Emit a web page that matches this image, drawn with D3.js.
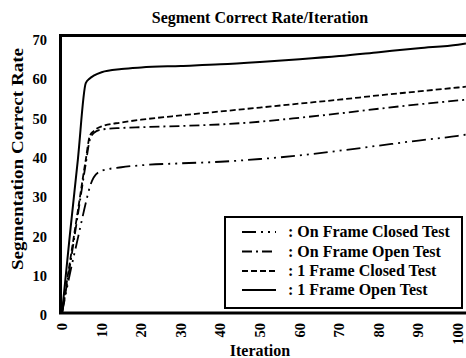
<!DOCTYPE html>
<html>
<head>
<meta charset="utf-8">
<script src="https://cdn.jsdelivr.net/npm/d3@7"></script>
<style>
  html, body { margin: 0; padding: 0; background: #fff; }
  svg { display: block; }
  text { font-family: "Liberation Serif", "Times New Roman", serif; font-weight: bold; fill: #000; }
</style>
</head>
<body>
<svg id="chart" width="466" height="358"></svg>
<script>
const iterations = [0, 2, 4, 6, 7, 8, 10, 15, 20, 30, 40, 50, 60, 70, 80, 90, 100, 102];
const onFrameClosed = [0, 10, 19, 28, 32, 34.5, 36.2, 37.1, 37.6, 38.1, 38.5, 39.2, 40.1, 41.3, 42.6, 43.9, 45.1, 45.4];
const onFrameOpen   = [0, 12, 25, 38, 44, 45.8, 46.7, 47.1, 47.3, 47.6, 48, 48.7, 49.7, 50.8, 52, 53.1, 54.1, 54.3];
const oneFrameClosed = [0, 13, 26, 39, 45, 46.3, 47.5, 48.5, 49.2, 50.3, 51.3, 52.3, 53.3, 54.3, 55.4, 56.4, 57.4, 57.6];
const oneFrameOpen  = [0, 20, 39, 58.5, 59.7, 60.4, 61.3, 62.1, 62.5, 62.9, 63.3, 63.9, 64.6, 65.4, 66.4, 67.4, 68.3, 68.6];
const seriesNames = [": On Frame Closed Test", ": On Frame Open Test", ": 1 Frame Closed Test", ": 1 Frame Open Test"];
const xTicks = [0, 10, 20, 30, 40, 50, 60, 70, 80, 90, 100];
const yTicks = [0, 10, 20, 30, 40, 50, 60, 70];

const dashes = ["14,5,2,5,2,5", "10,4,2,4", "6,3", null];
const seriesValues = [onFrameClosed, onFrameOpen, oneFrameClosed, oneFrameOpen];

const svg = d3.select("#chart");
const x = d3.scaleLinear().domain([0, 100]).range([62, 458]);
const y = d3.scaleLinear().domain([0, 70]).range([313, 38]);

svg.append("clipPath").attr("id", "clip")
  .append("rect").attr("x", 61).attr("y", 35).attr("width", 410).attr("height", 278);

// lines
const line = d3.line().x(d => x(d[0])).y(d => y(d[1])).curve(d3.curveMonotoneX);
seriesValues.forEach((vals, i) => {
  const pts = iterations.map((it, k) => [it, vals[k]]);
  svg.append("path")
    .attr("clip-path", "url(#clip)")
    .attr("d", line(pts))
    .attr("fill", "none")
    .attr("stroke", "#000")
    .attr("stroke-width", i === 3 ? 2 : 1.8)
    .attr("stroke-dasharray", dashes[i]);
});

// frame
svg.append("path")
  .attr("d", "M470,35.5 H60.5 V313 H470")
  .attr("fill", "none").attr("stroke", "#000").attr("stroke-width", 3);

// title
svg.append("text").attr("x", 260).attr("y", 23).attr("text-anchor", "middle")
  .attr("font-size", 16).text("Segment Correct Rate/Iteration");

// y tick labels
svg.selectAll(".ytl").data(yTicks).enter().append("text")
  .attr("x", 47).attr("y", d => y(d) + 2).attr("dy", "0.35em")
  .attr("text-anchor", "end").attr("font-size", 14.5).text(d => d);

// x tick labels (rotated)
svg.selectAll(".xtl").data(xTicks).enter().append("text")
  .attr("transform", d => `translate(${x(d)},323) rotate(-90)`)
  .attr("dy", "0.35em").attr("text-anchor", "end").attr("font-size", 14.5).text(d => d);

// axis titles
svg.append("text").attr("transform", "translate(23,159) rotate(-90)")
  .attr("text-anchor", "middle").attr("font-size", 16)
  .attr("textLength", 222).attr("lengthAdjust", "spacingAndGlyphs")
  .text("Segmentation Correct Rate");
svg.append("text").attr("x", 260).attr("y", 356).attr("text-anchor", "middle")
  .attr("font-size", 16).text("Iteration");

// legend
const lg = svg.append("g");
lg.append("rect").attr("x", 225).attr("y", 217).attr("width", 237).attr("height", 91)
  .attr("fill", "#fff").attr("stroke", "#000").attr("stroke-width", 2);
const rowY = [232, 251.5, 271, 290];
seriesNames.forEach((name, i) => {
  lg.append("line").attr("x1", 242).attr("x2", 276).attr("y1", rowY[i]).attr("y2", rowY[i])
    .attr("stroke", "#000").attr("stroke-width", 2).attr("stroke-dasharray", dashes[i]);
  lg.append("text").attr("x", 288).attr("y", rowY[i] + 5).attr("font-size", 16).text(name);
});
</script>
</body>
</html>
